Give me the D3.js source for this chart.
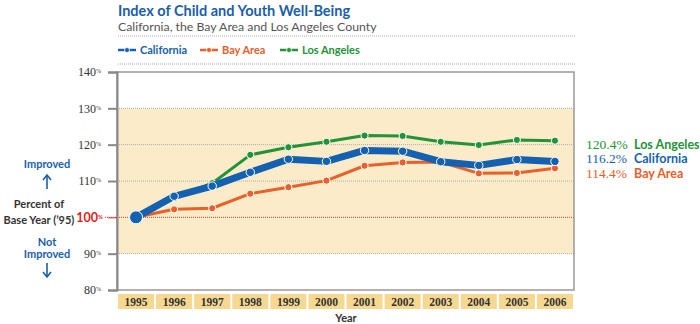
<!DOCTYPE html>
<html>
<head>
<meta charset="utf-8">
<script src="https://cdn.jsdelivr.net/npm/d3@7"></script>
<style>
  body { margin: 0; background: #fff; }
  svg { display: block; }
  .serif { font-family: "Liberation Serif", "DejaVu Serif", serif; }
  .sans { font-family: Lato, "Open Sans", sans-serif; }
</style>
</head>
<body>
<svg class="chart" width="700" height="324"></svg>
<script>
const years = ["1995","1996","1997","1998","1999","2000","2001","2002","2003","2004","2005","2006"]
const california = [100, 105.8, 108.6, 112.4, 116.0, 115.4, 118.4, 118.2, 115.3, 114.3, 115.9, 115.4]
const bayArea = [100, 102.2, 102.5, 106.5, 108.3, 110.1, 114.2, 115.1, 115.2, 112.1, 112.2, 113.5]
const losAngeles = [100, 105.3, 109.4, 117.2, 119.3, 120.8, 122.5, 122.4, 120.8, 119.9, 121.3, 121.1]
const yTicks = [80, 90, 100, 110, 120, 130, 140]
const gridLines = [90, 110, 120, 130]
const endLabels = ["120.4%", "116.2%", "114.4%"]

const colors = {ca: "#1461b1", bay: "#e8602a", la: "#239337"}

var svg = d3.select(".chart")

var xScale = d3.scaleBand().domain(years).range([117, 574])
var yScale = d3.scaleLinear().domain([80, 140]).range([290, 72])
const cx = d => xScale(d) + xScale.bandwidth() / 2

// titles
svg.append("text")
    .attr("class", "sans")
    .attr("x", 118).attr("y", 16)
    .attr("fill", "#1a5eab")
    .attr("font-weight", "bold")
    .attr("font-size", 14.5)
    .text("Index of Child and Youth Well-Being")

svg.append("text")
    .attr("class", "sans")
    .attr("x", 118).attr("y", 31)
    .attr("fill", "#555")
    .attr("font-size", 12.3)
    .text("California, the Bay Area and Los Angeles County")

// dotted separators
;[36, 64].forEach(yy => {
    svg.append("line")
        .attr("x1", 118).attr("x2", 575)
        .attr("y1", yy).attr("y2", yy)
        .attr("stroke", "#aaa")
        .attr("stroke-dasharray", "1,1")
})

// legend
const legendItems = [
    {name: "California", color: colors.ca, x: 118},
    {name: "Bay Area", color: colors.bay, x: 200},
    {name: "Los Angeles", color: colors.la, x: 280}
]
legendItems.forEach(item => {
    svg.append("line")
        .attr("x1", item.x).attr("x2", item.x + 18)
        .attr("y1", 50).attr("y2", 50)
        .attr("stroke", item.color)
        .attr("stroke-width", 2.5)
    svg.append("circle")
        .attr("cx", item.x + 9).attr("cy", 50).attr("r", 2.5)
        .attr("fill", item.color)
        .attr("stroke", "#fff").attr("stroke-width", 0.8)
    svg.append("text")
        .attr("class", "sans")
        .attr("x", item.x + 22).attr("y", 54)
        .attr("fill", item.color)
        .attr("font-weight", "bold")
        .attr("font-size", 11)
        .text(item.name)
})

// plot background
svg.append("rect")
    .attr("x", 117).attr("y", yScale(140))
    .attr("width", 457).attr("height", yScale(80) - yScale(140))
    .attr("fill", "#fff")

svg.append("rect")
    .attr("x", 117).attr("y", yScale(130))
    .attr("width", 457).attr("height", yScale(90) - yScale(130))
    .attr("fill", "#fbebc9")

gridLines.forEach(v => {
    svg.append("line")
        .attr("x1", 117).attr("x2", 574)
        .attr("y1", yScale(v)).attr("y2", yScale(v))
        .attr("stroke", "#aaa")
        .attr("stroke-dasharray", "1,1")
})

svg.append("line")
    .attr("x1", 105).attr("x2", 574)
    .attr("y1", yScale(100)).attr("y2", yScale(100))
    .attr("stroke", "#e8322a")
    .attr("stroke-dasharray", "1,1")

// frame
svg.append("rect")
    .attr("x", 117).attr("y", yScale(140))
    .attr("width", 457).attr("height", yScale(80) - yScale(140))
    .attr("fill", "none")
    .attr("stroke", "#999")
    .attr("stroke-width", 1.5)

// y axis
var yAxis = svg.append("g")
    .attr("transform", "translate(117,0)")
    .call(d3.axisLeft(yScale).tickValues(yTicks).tickSize(9).tickPadding(3).tickFormat(d => d))

yAxis.select(".domain").attr("stroke", "#888").attr("stroke-width", 2)
yAxis.selectAll(".tick line").attr("stroke", "#888").attr("stroke-width", 2)
yAxis.selectAll(".tick text")
    .attr("class", "serif")
    .attr("fill", "#333")
    .attr("font-size", 12)
    .attr("dx", -4)
    .append("tspan")
    .attr("font-size", 6)
    .attr("dy", -3)
    .text("%")
yAxis.selectAll(".tick").filter(d => d === 100).each(function() {
    d3.select(this).select("line").attr("stroke", "#e8322a").attr("stroke-width", 1)
    d3.select(this).select("text")
        .attr("class", "sans")
        .attr("fill", "#e0221c")
        .attr("font-weight", "bold")
        .attr("font-size", 12.5)
        .attr("dx", -2)
})

// year boxes
years.forEach(yr => {
    svg.append("rect")
        .attr("x", xScale(yr) + 1).attr("y", 294)
        .attr("width", xScale.bandwidth() - 2).attr("height", 15)
        .attr("fill", "#f6d890")
    svg.append("text")
        .attr("class", "serif")
        .attr("x", cx(yr)).attr("y", 305.5)
        .attr("text-anchor", "middle")
        .attr("fill", "#333")
        .attr("font-weight", "bold")
        .attr("font-size", 11.5)
        .text(yr)
})

svg.append("text")
    .attr("class", "sans")
    .attr("x", 346).attr("y", 322)
    .attr("text-anchor", "middle")
    .attr("fill", "#333")
    .attr("font-weight", "bold")
    .attr("font-size", 11)
    .text("Year")

// left annotations
const leftText = (t, x, y, color, size) => svg.append("text")
    .attr("class", "sans")
    .attr("x", x).attr("y", y)
    .attr("text-anchor", "middle")
    .attr("fill", color)
    .attr("font-weight", "bold")
    .attr("font-size", size)
    .text(t)

leftText("Improved", 47, 168, "#1a5eab", 11)
leftText("Percent of", 39, 208, "#333", 11)
leftText("Base Year (\u201995)", 39, 224, "#333", 11)
leftText("Not", 47, 246, "#1a5eab", 11)
leftText("Improved", 47, 257.5, "#1a5eab", 11)

const arrow = (y1, y2) => {
    svg.append("line")
        .attr("x1", 47).attr("x2", 47).attr("y1", y1).attr("y2", y2)
        .attr("stroke", "#1a5eab").attr("stroke-width", 1.6)
    const dir = y2 < y1 ? 1 : -1
    svg.append("path")
        .attr("d", `M${47 - 4},${y2 + dir * 5} L47,${y2} L${47 + 4},${y2 + dir * 5}`)
        .attr("fill", "none")
        .attr("stroke", "#1a5eab").attr("stroke-width", 1.6)
}
arrow(189, 175)
arrow(263, 277)

// lines
const line = d3.line()
    .x((d, i) => cx(years[i]))
    .y(d => yScale(d))

const series = [
    {data: bayArea, color: colors.bay, width: 3, r: 3.6},
    {data: losAngeles, color: colors.la, width: 3, r: 3.6},
    {data: california, color: colors.ca, width: 7, r: 4.2}
]

series.forEach(s => {
    svg.append("path")
        .datum(s.data)
        .attr("d", line)
        .attr("fill", "none")
        .attr("stroke", s.color)
        .attr("stroke-width", s.width)
        .attr("stroke-linejoin", "round")
    svg.selectAll(null)
        .data(s.data.slice(1))
        .enter().append("circle")
        .attr("cx", (d, i) => cx(years[i + 1]))
        .attr("cy", d => yScale(d))
        .attr("r", s.r)
        .attr("fill", s.color)
        .attr("stroke", "#fff")
        .attr("stroke-width", 1)
})

// base point
svg.append("circle")
    .attr("cx", cx(years[0])).attr("cy", yScale(california[0]))
    .attr("r", 6.5)
    .attr("fill", colors.ca)
    .attr("stroke", "#fff")
    .attr("stroke-width", 1)

// end labels
const endNames = ["Los Angeles", "California", "Bay Area"]
const endColors = [colors.la, colors.ca, colors.bay]
endLabels.forEach((lab, i) => {
    const yy = 149 + i * 14.3
    svg.append("text")
        .attr("class", "serif")
        .attr("x", 586).attr("y", yy)
        .attr("fill", endColors[i])
        .attr("font-size", 13.5)
        .text(lab)
    svg.append("text")
        .attr("class", "sans")
        .attr("x", 634).attr("y", yy)
        .attr("fill", endColors[i])
        .attr("font-weight", "bold")
        .attr("font-size", 12.5)
        .text(endNames[i])
})
</script>
</body>
</html>
